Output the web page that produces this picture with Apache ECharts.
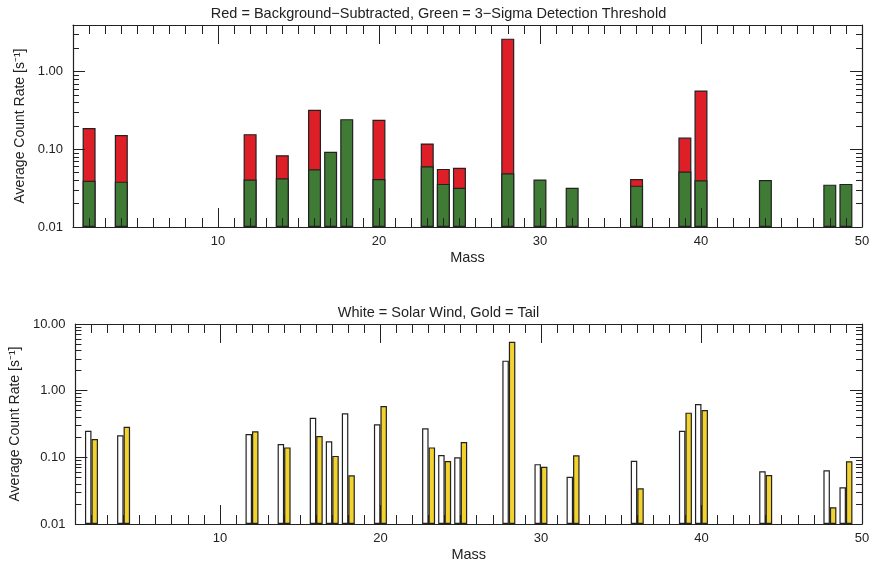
<!DOCTYPE html>
<html>
<head>
<meta charset="utf-8">
<script src="https://cdn.jsdelivr.net/npm/echarts@6/dist/echarts.min.js"></script>
<style>
  html, body { margin: 0; padding: 0; background: #fff; }
  #chartId { width: 877px; height: 564px; }
</style>
</head>
<body>
<div id="chartId"></div>
<script>
// ---- data ----
// top panel: mass, background-subtracted rate (red), 3-sigma threshold (green)
const topMass      = [2, 4, 12, 14, 16, 17, 18, 20, 23, 24, 25, 28, 30, 32, 36, 39, 40, 44, 48, 49];
const redRate      = [0.188, 0.153, 0.157, 0.084, 0.324, null, null, 0.24, 0.119, 0.056, 0.058, 2.67, null, null, 0.0416, 0.142, 0.574, null, null, null];
const greenRate    = [0.0395, 0.0384, 0.041, 0.0425, 0.0555, 0.093, 0.245, 0.0416, 0.0607, 0.0359, 0.0321, 0.0493, 0.041, 0.0321, 0.0341, 0.0517, 0.040, 0.0404, 0.0351, 0.0359];

// bottom panel: solar wind (white) and tail (gold)
const botMass      = [2, 4, 12, 14, 16, 17, 18, 20, 23, 24, 25, 28, 30, 32, 36, 39, 40, 44, 48, 49];
const windRate     = [0.251, 0.214, 0.224, 0.158, 0.393, 0.174, 0.457, 0.313, 0.272, 0.108, 0.100, 2.82, 0.079, 0.051, 0.089, 0.251, 0.631, 0.0617, 0.0638, 0.0355];
const tailRate     = [0.188, 0.288, 0.246, 0.141, 0.209, 0.105, 0.0537, 0.589, 0.141, 0.088, 0.170, 5.43, 0.0724, 0.107, 0.0343, 0.468, 0.513, 0.0543, 0.0178, 0.0873];

const massTicks    = [];   // one tick per mass unit
for (let m = 1; m <= 50; m++) massTicks.push(m);
const massMajor    = [10, 20, 30, 40];
const massLabels   = [10, 20, 30, 40, 50];

const topYLabels   = [0.01, 0.1, 1];
const botYLabels   = [0.01, 0.1, 1, 10];
function logMinor(maxVal){
    let out = [];
    for (let d = 0.01; d < maxVal; d *= 10) {
        for (let k = 2; k <= 9; k++) {
            let v = +(d * k).toPrecision(3);
            if (v <= maxVal) out.push(v);
        }
    }
    return out;
}

const font = 'Liberation Sans, Arial, Helvetica, sans-serif';
const black = '#222';

function pairs(xs, ys){
    return xs.map((x, i) => [x, ys[i]]);
}

// build the 8 axes of one panel (ticks on all four sides, long majors)
function xAxes(grid){
    let base = {
        gridIndex: grid, type: 'value', min: 1, max: 50, z: 5,
        splitLine: { show: false },
        axisLine: { show: true, onZero: false, lineStyle: { color: black, width: 1.2 } },
        axisLabel: { show: false }
    };
    return [
        Object.assign({}, base, {
            position: 'bottom',
            name: 'Mass', nameLocation: 'middle', nameGap: 23,
            nameTextStyle: { fontFamily: font, fontSize: 14.5, color: black },
            axisTick: { inside: true, length: 9, customValues: massTicks, lineStyle: { color: black } },
            axisLabel: { show: true, customValues: massLabels, margin: 8, fontFamily: font, fontSize: 13, color: black }
        }),
        Object.assign({}, base, {
            position: 'bottom', axisLine: { show: false, onZero: false },
            axisTick: { inside: true, length: 19, customValues: massMajor, lineStyle: { color: black } }
        }),
        Object.assign({}, base, {
            position: 'top',
            axisTick: { inside: true, length: 9, customValues: massTicks, lineStyle: { color: black } }
        }),
        Object.assign({}, base, {
            position: 'top', axisLine: { show: false, onZero: false },
            axisTick: { inside: true, length: 19, customValues: massMajor, lineStyle: { color: black } }
        })
    ];
}

function yAxes(grid, maxVal, labels){
    let base = {
        gridIndex: grid, type: 'log', logBase: 10, min: 0.01, max: maxVal, startValue: 0.01, z: 5,
        splitLine: { show: false },
        axisLine: { show: true, onZero: false, lineStyle: { color: black, width: 1.2 } },
        axisLabel: { show: false }
    };
    let minor = logMinor(maxVal);
    return [
        Object.assign({}, base, {
            position: 'left',
            name: 'Average Count Rate [s\u207B\u00B9]', nameLocation: 'middle', nameGap: 34,
            nameTextStyle: { fontFamily: font, fontSize: 14, color: black },
            axisTick: { inside: true, length: 6, customValues: minor, lineStyle: { color: black } },
            axisLabel: { show: true, customValues: labels, margin: 10, fontFamily: font, fontSize: 13, color: black,
                         formatter: v => (+v).toFixed(2) }
        }),
        Object.assign({}, base, {
            position: 'left', axisLine: { show: false, onZero: false },
            axisTick: { inside: true, length: 12, customValues: labels, lineStyle: { color: black } }
        }),
        Object.assign({}, base, {
            position: 'right',
            axisTick: { inside: true, length: 6, customValues: minor, lineStyle: { color: black } }
        }),
        Object.assign({}, base, {
            position: 'right', axisLine: { show: false, onZero: false },
            axisTick: { inside: true, length: 12, customValues: labels, lineStyle: { color: black } }
        })
    ];
}

var chart = echarts.init(document.getElementById('chartId'));
window.onresize = function(){
    chart.resize();
}

var option = {
    animation: false,
    backgroundColor: '#fff',
    title: [
        { text: 'Red = Background\u2212Subtracted, Green = 3\u2212Sigma Detection Threshold',
          left: 'center', top: 6, padding: 0,
          textStyle: { fontFamily: font, fontSize: 14.5, fontWeight: 'normal', color: black } },
        { text: 'White = Solar Wind, Gold = Tail',
          left: 'center', top: 305, padding: 0,
          textStyle: { fontFamily: font, fontSize: 14.5, fontWeight: 'normal', color: black } }
    ],
    grid: [
        { left: 73, right: 15, top: 25, height: 202 },
        { left: 73, right: 15, top: 324, height: 200 }
    ],
    xAxis: xAxes(0).concat(xAxes(1)),
    yAxis: yAxes(0, 4, topYLabels).concat(yAxes(1, 10, botYLabels)),
    series: [
        {
            type: 'bar', name: 'red', xAxisIndex: 0, yAxisIndex: 0,
            barWidth: 13, barGap: '-100%',
            itemStyle: { color: '#df1f27', borderColor: black, borderWidth: 1.2 },
            data: pairs(topMass, redRate)
        },
        {
            type: 'bar', name: 'green', xAxisIndex: 0, yAxisIndex: 0,
            barWidth: 13, barGap: '-100%',
            itemStyle: { color: '#3f7b35', borderColor: black, borderWidth: 1.2 },
            data: pairs(topMass, greenRate)
        },
        {
            type: 'bar', name: 'wind', xAxisIndex: 4, yAxisIndex: 4,
            barWidth: 6.5, barGap: 0,
            itemStyle: { color: '#ffffff', borderColor: black, borderWidth: 1.2 },
            data: pairs(botMass, windRate)
        },
        {
            type: 'bar', name: 'tail', xAxisIndex: 4, yAxisIndex: 4,
            barWidth: 6.5, barGap: 0,
            itemStyle: { color: '#f1d22e', borderColor: black, borderWidth: 1.2 },
            data: pairs(botMass, tailRate)
        }
    ]
};
chart.setOption(option);
</script>
</body>
</html>
